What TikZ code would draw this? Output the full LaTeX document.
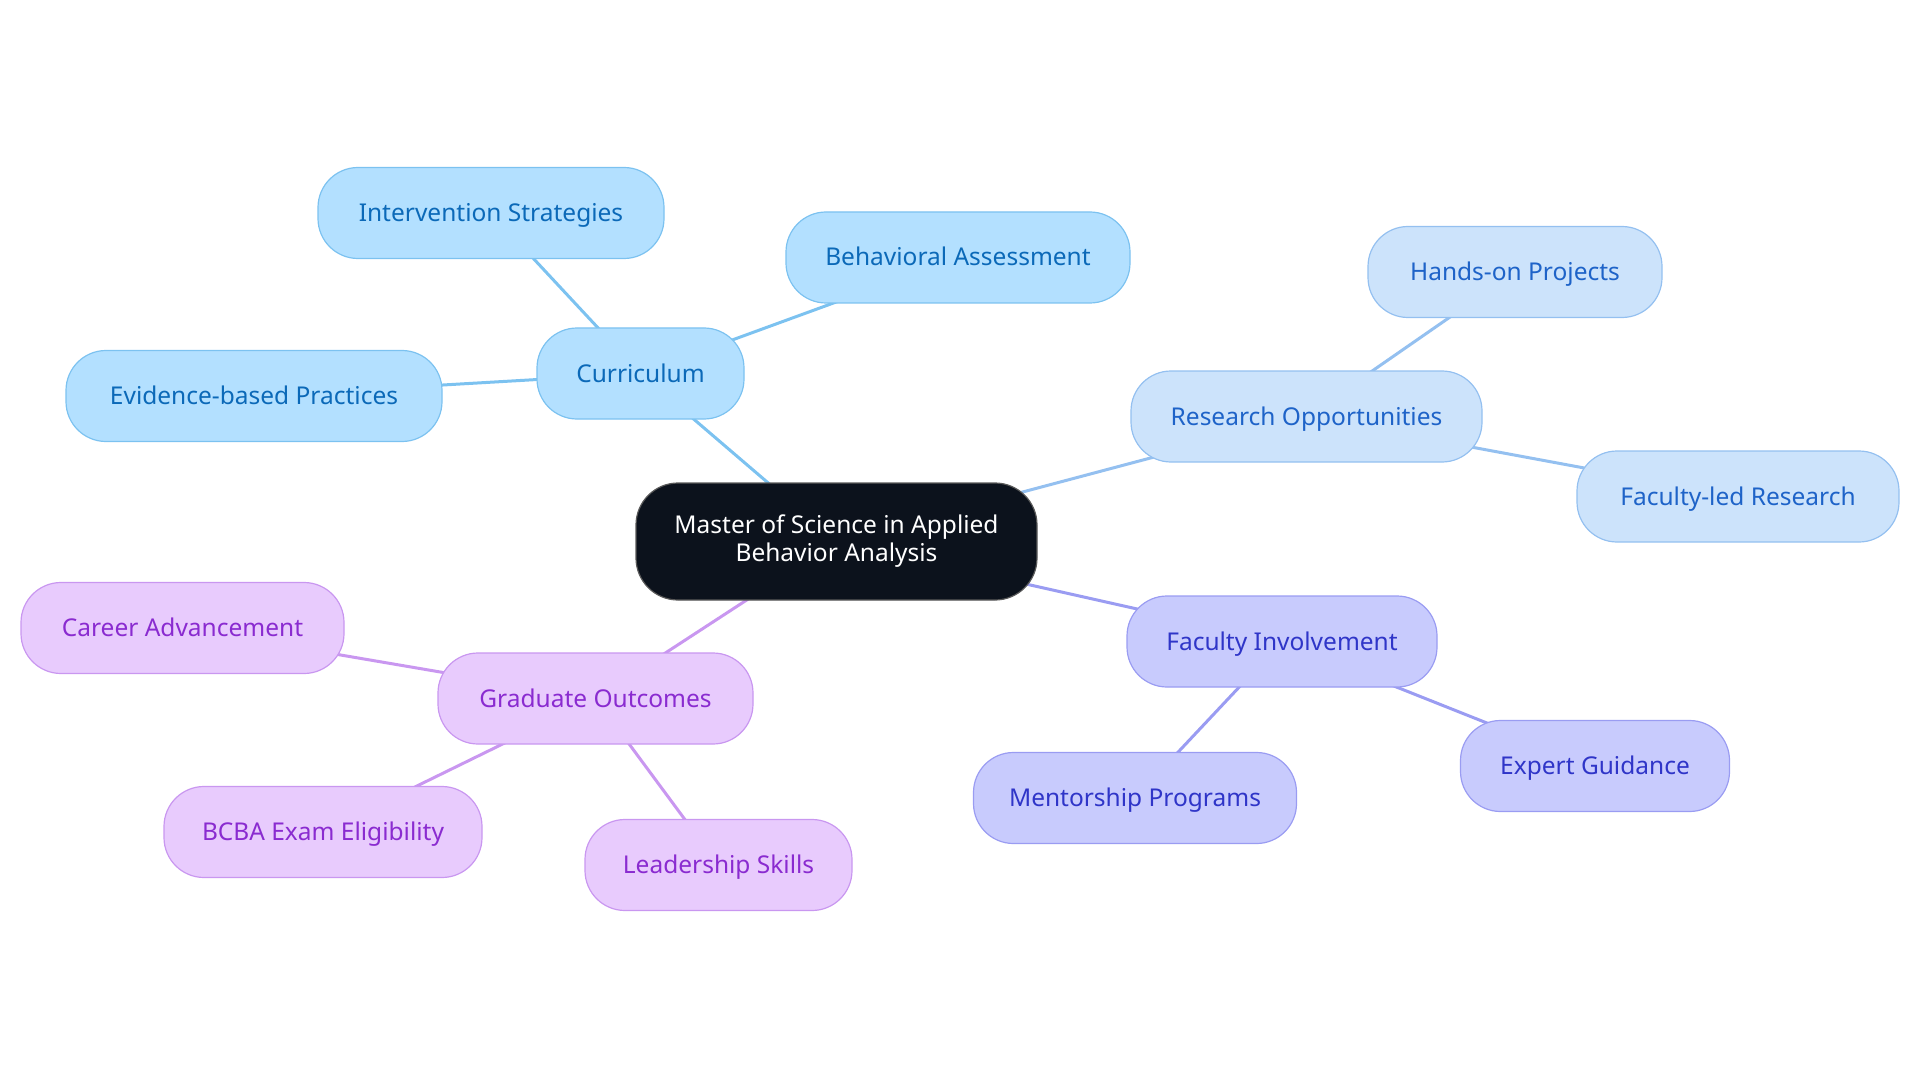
\documentclass[tikz,border=0pt]{standalone}
\usepackage{fontspec}
\setmainfont{Noto Sans}
\usetikzlibrary{backgrounds}
\definecolor{cFill}{HTML}{B3E0FF}\definecolor{cLine}{HTML}{7CC2F0}\definecolor{cText}{HTML}{0B69B8}
\definecolor{rFill}{HTML}{CCE3FB}\definecolor{rLine}{HTML}{94C0F0}\definecolor{rText}{HTML}{1E63C8}
\definecolor{fFill}{HTML}{C8CBFD}\definecolor{fLine}{HTML}{9A9CF2}\definecolor{fText}{HTML}{2F35C8}
\definecolor{gFill}{HTML}{E8CBFD}\definecolor{gLine}{HTML}{C997F0}\definecolor{gText}{HTML}{8A2BD0}
\definecolor{mainFill}{HTML}{0C121C}
\tikzset{
  box/.style={rectangle, rounded corners=40pt, minimum height=91pt, line width=1.2pt,
    font=\fontsize{24.5}{28}\selectfont, inner sep=0pt, align=center},
  leaf/.style={box, text height=22pt, text depth=5pt},
  cbox/.style={leaf, fill=cFill, draw=cLine, text=cText},
  rbox/.style={leaf, fill=rFill, draw=rLine, text=rText},
  fbox/.style={leaf, fill=fFill, draw=fLine, text=fText},
  gbox/.style={leaf, fill=gFill, draw=gLine, text=gText},
  mbox/.style={box, fill=mainFill, draw=gray!70!black, text=white, rounded corners=42pt, minimum height=117pt},
  link/.style={line width=3pt},
}
\begin{document}
\begin{tikzpicture}[x=1pt,y=-1pt]
\useasboundingbox (0,0) rectangle (1920,1083);
\node[mbox, minimum width=401pt] (m) at (836.5,541.5) {Master of Science in Applied\\Behavior Analysis};
\node[cbox, minimum width=207pt] (cur) at (640.5,373.5) {Curriculum};
\node[cbox, minimum width=346pt] (int) at (491,213) {Intervention Strategies};
\node[cbox, minimum width=344pt] (beh) at (958,257.5) {Behavioral Assessment};
\node[cbox, minimum width=376pt] (evi) at (254,396) {Evidence-based Practices};
\node[rbox, minimum width=351pt] (res) at (1306.5,416.5) {Research Opportunities};
\node[rbox, minimum width=294pt] (han) at (1515,272) {Hands-on Projects};
\node[rbox, minimum width=322pt] (fle) at (1738,496.5) {Faculty-led Research};
\node[fbox, minimum width=310pt] (fac) at (1282,641.5) {Faculty Involvement};
\node[fbox, minimum width=269pt] (exp) at (1595,766) {Expert Guidance};
\node[fbox, minimum width=323pt] (men) at (1135,798) {Mentorship Programs};
\node[gbox, minimum width=315pt] (gra) at (595.5,698.5) {Graduate Outcomes};
\node[gbox, minimum width=323pt] (car) at (182.5,628) {Career Advancement};
\node[gbox, minimum width=318pt] (bcb) at (323,832) {BCBA Exam Eligibility};
\node[gbox, minimum width=267pt] (lea) at (718.5,865) {Leadership Skills};
\begin{scope}[on background layer]
\draw[link, cLine] (m.center) -- (cur.center);
\draw[link, cLine] (cur.center) -- (int.center);
\draw[link, cLine] (cur.center) -- (beh.center);
\draw[link, cLine] (cur.center) -- (evi.center);
\draw[link, rLine] (m.center) -- (res.center);
\draw[link, rLine] (res.center) -- (han.center);
\draw[link, rLine] (res.center) -- (fle.center);
\draw[link, fLine] (m.center) -- (fac.center);
\draw[link, fLine] (fac.center) -- (exp.center);
\draw[link, fLine] (fac.center) -- (men.center);
\draw[link, gLine] (m.center) -- (gra.center);
\draw[link, gLine] (gra.center) -- (car.center);
\draw[link, gLine] (gra.center) -- (bcb.center);
\draw[link, gLine] (gra.center) -- (lea.center);
\end{scope}
\end{tikzpicture}
\end{document}
